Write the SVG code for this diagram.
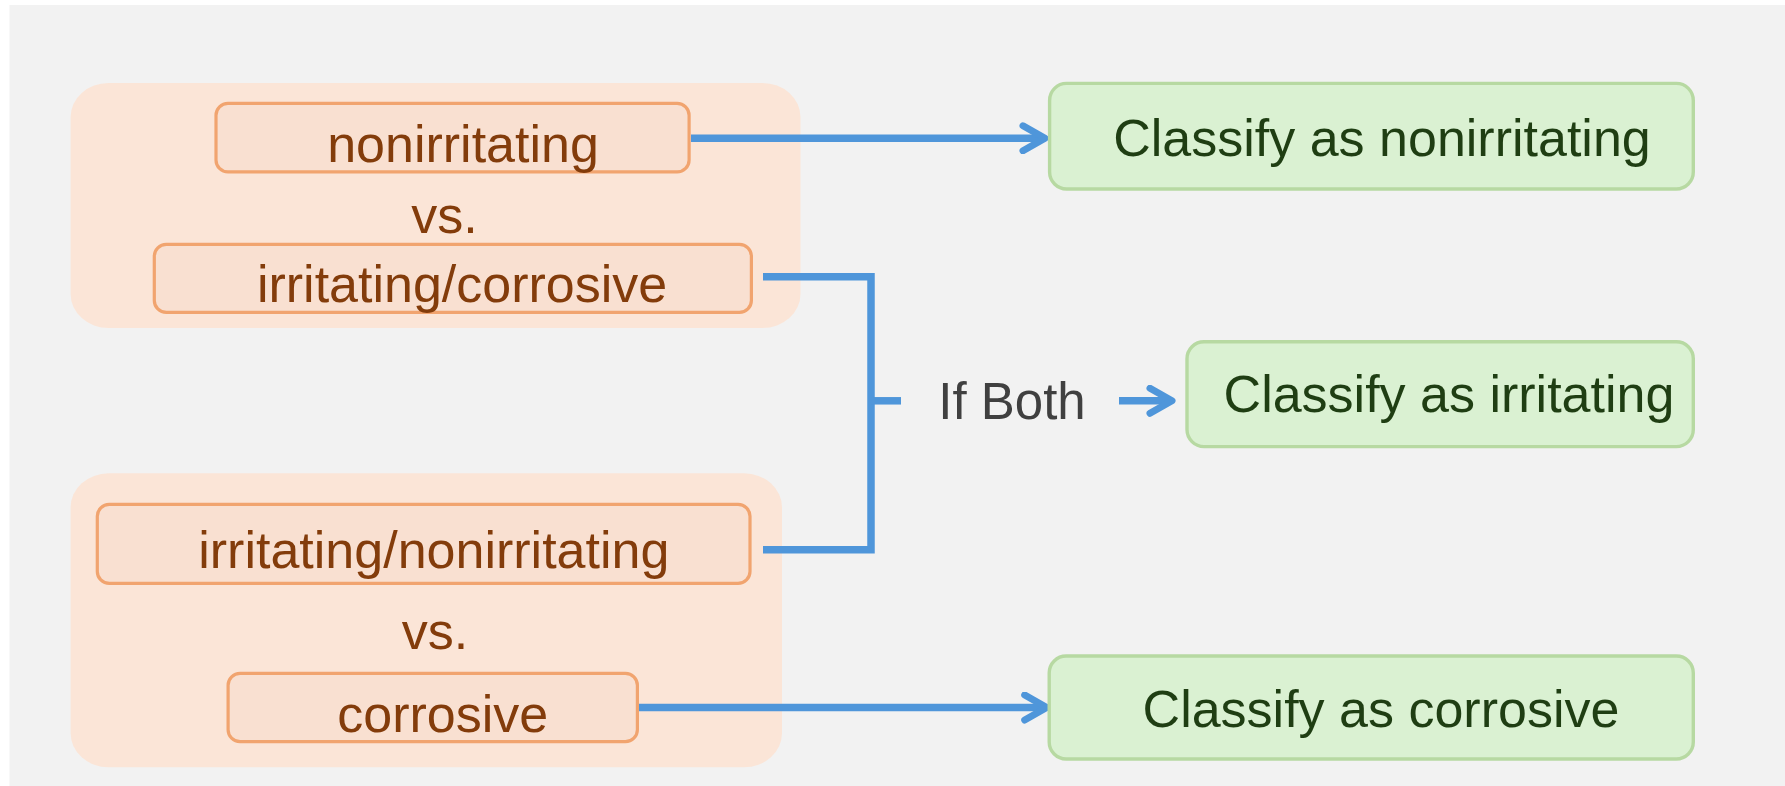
<svg xmlns="http://www.w3.org/2000/svg" width="1785" height="786" viewBox="0 0 1785 786">
<style>
.grp{fill:#FBE5D7;stroke:none}
.inbox{fill:#F9E0D1;stroke:#F1A46F;stroke-width:3.2}
.gbox{fill:#DAF1D2;stroke:#B7D9A2;stroke-width:3.4}
.ot{font-family:"Liberation Sans",Arial,sans-serif;font-size:52px;fill:#833C0B;text-anchor:middle}
.gt{font-family:"Liberation Sans",Arial,sans-serif;font-size:52px;fill:#1F3E13;text-anchor:middle}
.lbl{font-family:"Liberation Sans",Arial,sans-serif;font-size:51px;fill:#404040}
.conn{fill:none;stroke:#4F96DA;stroke-width:7.5}
</style>
<defs>
<marker id="chev" markerUnits="userSpaceOnUse" viewBox="0 0 32 32" markerWidth="32" markerHeight="32" refX="25" refY="16" orient="auto">
<path d="M5,3.5 L27,16 L5,28.5" fill="none" stroke="#4F96DA" stroke-width="7" stroke-linejoin="round" stroke-linecap="round"/>
</marker>
</defs>
<rect x="0" y="0" width="1785" height="786" fill="#FFFFFF"/>
<rect x="9.5" y="5" width="1775.5" height="781" fill="#F2F2F2"/>

<g id="group-top">
<rect class="grp" x="70.6" y="83" width="729.9" height="245" rx="38" ry="34"/>
</g>
<g id="group-bottom">
<rect class="grp" x="70.6" y="473.3" width="711.4" height="294" rx="38" ry="34"/>
</g>

<g id="connectors">
<path class="conn" d="M691,138.3 H1043" marker-end="url(#chev)"/>
<path class="conn" d="M763,276.7 H871 V549.7 H763"/>
<path class="conn" d="M871,400.8 H901"/>
<path class="conn" d="M1119,400.8 H1170" marker-end="url(#chev)"/>
<path class="conn" d="M639,707.5 H1044.7" marker-end="url(#chev)"/>
</g>

<g id="node-nonirritating">
<rect class="inbox" x="216" y="103.3" width="473.1" height="68.6" rx="12"/>
<text class="ot" x="463" y="162">nonirritating</text>
</g>
<g id="label-vs-top">
<text class="ot" x="444.6" y="233">vs.</text>
</g>
<g id="node-irritating-corrosive">
<rect class="inbox" x="154.3" y="244.3" width="597.1" height="68.1" rx="12"/>
<text class="ot" x="462.1" y="301.7">irritating/corrosive</text>
</g>
<g id="node-irritating-nonirritating">
<rect class="inbox" x="97.3" y="504.3" width="652.7" height="79.1" rx="12"/>
<text class="ot" x="433.8" y="567.7">irritating/nonirritating</text>
</g>
<g id="label-vs-bottom">
<text class="ot" x="435" y="649.3">vs.</text>
</g>
<g id="node-corrosive">
<rect class="inbox" x="228.1" y="673.3" width="409.3" height="68.4" rx="12"/>
<text class="ot" x="442.8" y="731.7">corrosive</text>
</g>

<g id="label-if-both">
<text class="lbl" x="938.3" y="419.3">If Both</text>
</g>

<g id="node-classify-nonirritating">
<rect class="gbox" x="1049.6" y="83.4" width="643.7" height="105.6" rx="17"/>
<text class="gt" x="1382" y="155.7">Classify as nonirritating</text>
</g>
<g id="node-classify-irritating">
<rect class="gbox" x="1187" y="341.7" width="506.3" height="104.9" rx="17"/>
<text class="gt" x="1449" y="412.3">Classify as irritating</text>
</g>
<g id="node-classify-corrosive">
<rect class="gbox" x="1049.2" y="656" width="644.1" height="103" rx="17"/>
<text class="gt" x="1381" y="726.7">Classify as corrosive</text>
</g>
</svg>
